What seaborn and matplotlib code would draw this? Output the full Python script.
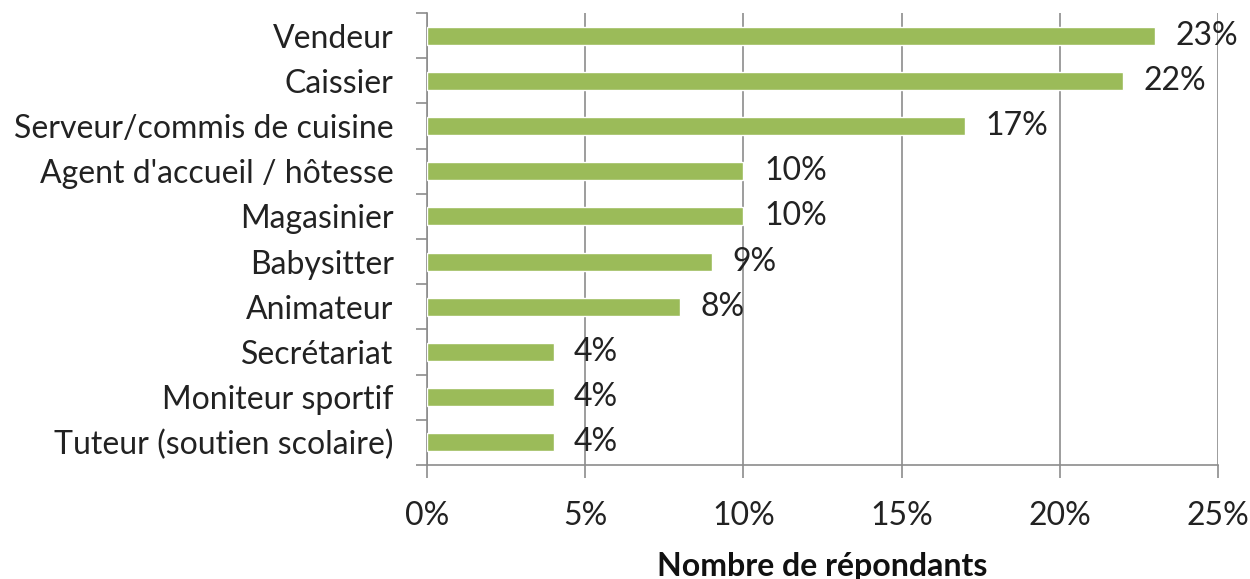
import numpy as np
import pandas as pd
import seaborn as sns
from matplotlib import pyplot as plt
from matplotlib.ticker import FixedLocator, PercentFormatter

jobs = [
    "Vendeur",
    "Caissier",
    "Serveur/commis de cuisine",
    "Agent d'accueil / hôtesse",
    "Magasinier",
    "Babysitter",
    "Animateur",
    "Secrétariat",
    "Moniteur sportif",
    "Tuteur (soutien scolaire)",
]
shares = [23, 22, 17, 10, 10, 9, 8, 4, 4, 4]
x_ticks = [0, 5, 10, 15, 20, 25]

df = pd.DataFrame({"job": jobs, "share": shares})

sns.set_style("white")
plt.rcParams["font.family"] = ["Lato", "DejaVu Sans"]

fig = plt.figure(figsize=(12.5, 5.79), dpi=100)
ax = fig.add_axes([0.3416, 0.197, 0.6328, 0.7805])

sns.barplot(data=df, x="share", y="job", color="#9BBB59", width=0.4,
            saturation=1, ax=ax, zorder=3)

ax.set_xlim(0, 25)
ax.set_ylim(len(jobs) - 0.5, -0.5)
ax.set_xticks(x_ticks)
ax.xaxis.set_major_formatter(PercentFormatter(decimals=0))
ax.grid(axis="x", color="#8c8c8c", linewidth=1.2, zorder=0)
ax.grid(axis="y", visible=False)

for s in ["top", "right"]:
    ax.spines[s].set_visible(False)
for s in ["left", "bottom"]:
    ax.spines[s].set_color("#8c8c8c")
    ax.spines[s].set_linewidth(1.2)

ax.tick_params(axis="x", direction="out", length=9, width=1.2, color="#8c8c8c",
               labelsize=23, pad=17, bottom=True, labelcolor="#222222")
ax.tick_params(axis="y", which="major", length=0, labelsize=23, pad=24,
               labelcolor="#222222")
ax.yaxis.set_minor_locator(FixedLocator(np.arange(-0.5, len(jobs), 1)))
ax.tick_params(axis="y", which="minor", direction="out", length=8, width=1.2,
               color="#8c8c8c", left=True)

for i, v in enumerate(shares):
    ax.text(v + 0.65, i, f"{v}%", va="center", ha="left", fontsize=23,
            color="#222222")

ax.set_ylabel("")
ax.set_xlabel("Nombre de répondants", fontsize=23, fontweight="bold",
              labelpad=15, color="#111111")

fig.savefig("out.png", dpi=100)
plt.close(fig)
